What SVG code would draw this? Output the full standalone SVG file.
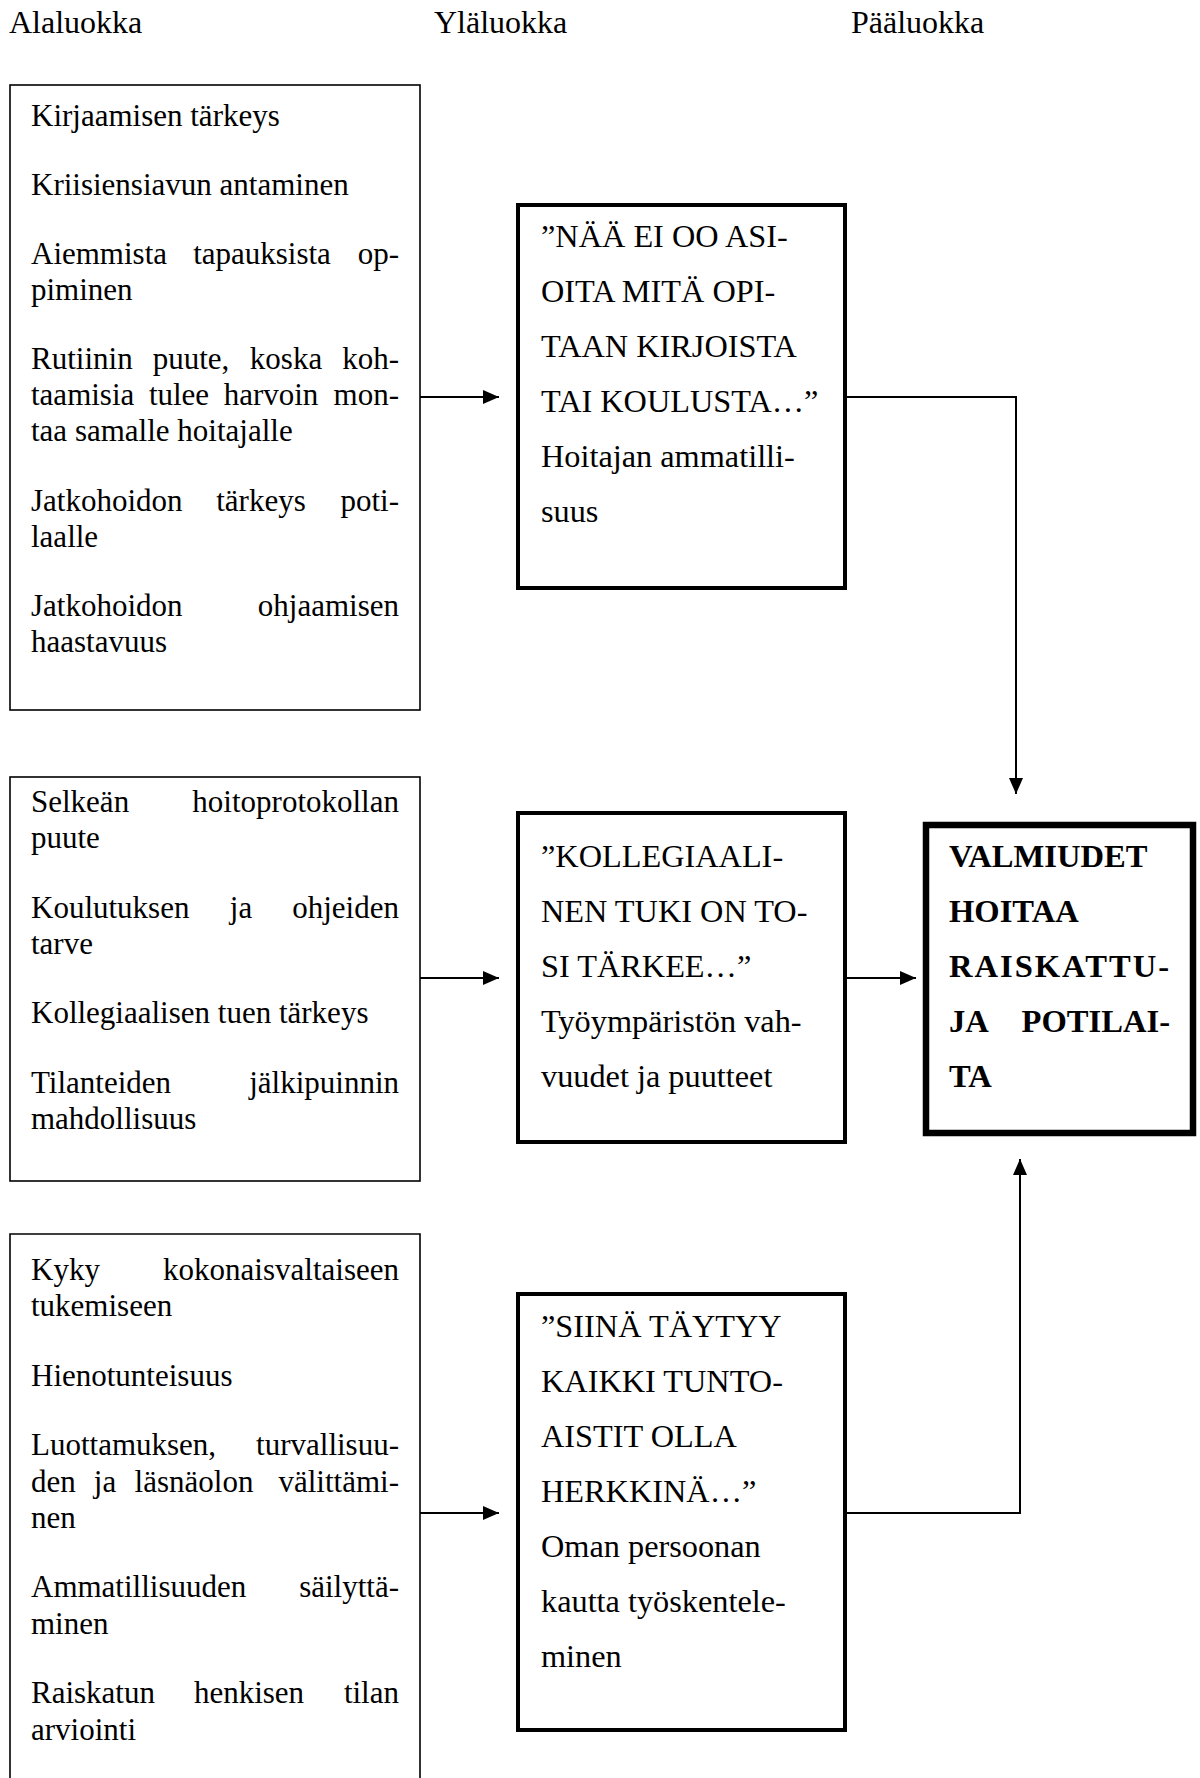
<svg xmlns="http://www.w3.org/2000/svg" width="1200" height="1778" viewBox="0 0 1200 1778">
<style>
text{font-family:"Liberation Serif","Times New Roman",serif;font-size:31px;fill:#000}
.h{font-size:32px}
.q{font-size:32.3px}
.b{font-weight:bold;font-size:32.6px}
.thin{fill:#fff;stroke:#000;stroke-width:1.6}
.mid{fill:#fff;stroke:#000;stroke-width:4}
.main{fill:#fff;stroke:#000;stroke-width:6.5}
.c{fill:none;stroke:#000;stroke-width:2}
.e{text-anchor:end}
.m{text-anchor:middle}
</style>
<defs>
<marker id="ah" markerUnits="userSpaceOnUse" markerWidth="18" markerHeight="14" refX="16" refY="7" orient="auto">
<path d="M0,0 L16,7 L0,14 Z" fill="#000"/>
</marker>
</defs>
<rect width="1200" height="1778" fill="#fff"/>
<g id="headers">
<text class="h" x="9" y="33">Alaluokka</text>
<text class="h" x="434" y="33">Yläluokka</text>
<text class="h" x="851" y="33">Pääluokka</text>
</g>
<g id="connectors">
<path class="c" d="M420,397 H499" marker-end="url(#ah)"/>
<path class="c" d="M845,397 H1016 V794" marker-end="url(#ah)"/>
<path class="c" d="M420,978 H499" marker-end="url(#ah)"/>
<path class="c" d="M845,978 H916" marker-end="url(#ah)"/>
<path class="c" d="M420,1513 H499" marker-end="url(#ah)"/>
<path class="c" d="M845,1513 H1020 V1159" marker-end="url(#ah)"/>
</g>
<g id="alaluokka1">
<rect class="thin" x="10" y="85" width="410" height="625"/>
<text x="31" y="126">Kirjaamisen tärkeys</text>
<text x="31" y="195">Kriisiensiavun antaminen</text>
<text x="31" y="264">Aiemmista</text><text class="m" x="262" y="264">tapauksista</text><text class="e" x="399" y="264">op-</text>
<text x="31" y="300">piminen</text>
<text x="31" y="369">Rutiinin</text><text class="m" x="191" y="369">puute,</text><text class="m" x="286" y="369">koska</text><text class="e" x="399" y="369">koh-</text>
<text x="31" y="405">taamisia</text><text class="m" x="179" y="405">tulee</text><text class="m" x="271" y="405">harvoin</text><text class="e" x="399" y="405">mon-</text>
<text x="31" y="441">taa samalle hoitajalle</text>
<text x="31" y="511">Jatkohoidon</text><text class="m" x="261" y="511">tärkeys</text><text class="e" x="399" y="511">poti-</text>
<text x="31" y="547">laalle</text>
<text x="31" y="616">Jatkohoidon</text><text class="e" x="399" y="616">ohjaamisen</text>
<text x="31" y="652">haastavuus</text>
</g>
<g id="alaluokka2">
<rect class="thin" x="10" y="777" width="410" height="404"/>
<text x="31" y="812">Selkeän</text><text class="e" x="399" y="812">hoitoprotokollan</text>
<text x="31" y="848">puute</text>
<text x="31" y="918">Koulutuksen</text><text class="m" x="241" y="918">ja</text><text class="e" x="399" y="918">ohjeiden</text>
<text x="31" y="954">tarve</text>
<text x="31" y="1023">Kollegiaalisen tuen tärkeys</text>
<text x="31" y="1093">Tilanteiden</text><text class="e" x="399" y="1093">jälkipuinnin</text>
<text x="31" y="1129">mahdollisuus</text>
</g>
<g id="alaluokka3">
<path class="thin" d="M10,1790 V1234 H420 V1790"/>
<text x="31" y="1280">Kyky</text><text class="e" x="399" y="1280">kokonaisvaltaiseen</text>
<text x="31" y="1316">tukemiseen</text>
<text x="31" y="1386">Hienotunteisuus</text>
<text x="31" y="1455">Luottamuksen,</text><text class="e" x="399" y="1455">turvallisuu-</text>
<text x="31" y="1492">den</text><text class="m" x="105" y="1492">ja</text><text class="m" x="194" y="1492">läsnäolon</text><text class="e" x="399" y="1492">välittämi-</text>
<text x="31" y="1528">nen</text>
<text x="31" y="1597">Ammatillisuuden</text><text class="e" x="399" y="1597">säilyttä-</text>
<text x="31" y="1634">minen</text>
<text x="31" y="1703">Raiskatun</text><text class="m" x="249" y="1703">henkisen</text><text class="e" x="399" y="1703">tilan</text>
<text x="31" y="1740">arviointi</text>
</g>
<g id="ylaluokka1">
<rect class="mid" x="518" y="205" width="327" height="383"/>
<text class="q" x="541" y="247">”NÄÄ EI OO ASI-</text>
<text class="q" x="541" y="302">OITA MITÄ OPI-</text>
<text class="q" x="541" y="357">TAAN KIRJOISTA</text>
<text class="q" x="541" y="412">TAI KOULUSTA…”</text>
<text class="q" x="541" y="467">Hoitajan ammatilli-</text>
<text class="q" x="541" y="522">suus</text>
</g>
<g id="ylaluokka2">
<rect class="mid" x="518" y="813" width="327" height="329"/>
<text class="q" x="541" y="867">”KOLLEGIAALI-</text>
<text class="q" x="541" y="922">NEN TUKI ON TO-</text>
<text class="q" x="541" y="977">SI TÄRKEE…”</text>
<text class="q" x="541" y="1032">Työympäristön vah-</text>
<text class="q" x="541" y="1087">vuudet ja puutteet</text>
</g>
<g id="ylaluokka3">
<rect class="mid" x="518" y="1294" width="327" height="436"/>
<text class="q" x="541" y="1337">”SIINÄ TÄYTYY</text>
<text class="q" x="541" y="1392">KAIKKI TUNTO-</text>
<text class="q" x="541" y="1447">AISTIT OLLA</text>
<text class="q" x="541" y="1502">HERKKINÄ…”</text>
<text class="q" x="541" y="1557">Oman persoonan</text>
<text class="q" x="541" y="1612">kautta työskentele-</text>
<text class="q" x="541" y="1667">minen</text>
</g>
<g id="paaluokka">
<rect class="main" x="926" y="825" width="267" height="308"/>
<text class="b" x="949" y="867">VALMIUDET</text>
<text class="b" x="949" y="922">HOITAA</text>
<text class="b" x="949" y="977" textLength="220" lengthAdjust="spacing">RAISKATTU-</text>
<text class="b" x="949" y="1032">JA</text><text class="b e" x="1170" y="1032">POTILAI-</text>
<text class="b" x="949" y="1087">TA</text>
</g>
</svg>
